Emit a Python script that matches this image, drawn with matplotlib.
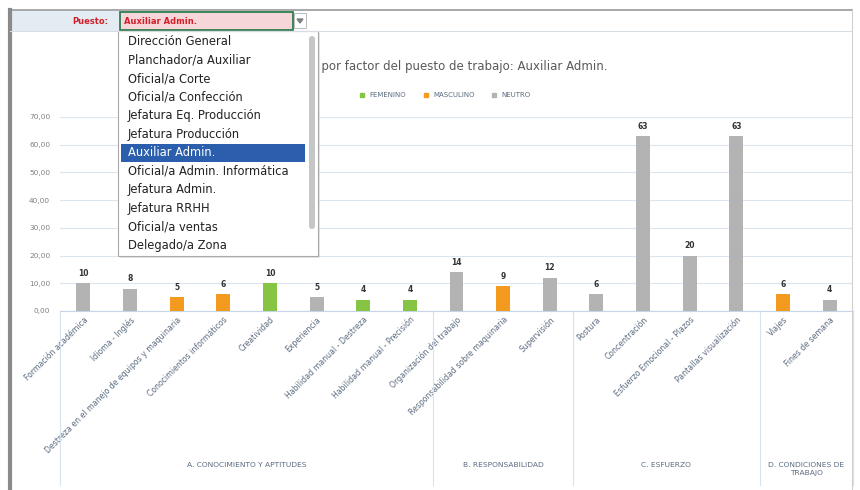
import numpy as np
import matplotlib
matplotlib.use('Agg')
import matplotlib.pyplot as plt
from matplotlib.patches import Rectangle, FancyBboxPatch, Polygon
from matplotlib.lines import Line2D
from matplotlib.ticker import FuncFormatter

# factores valorados para el puesto seleccionado
factores = ['Formación académica', 'Idioma - Inglés',
            'Destreza en el manejo de equipos y maquinaria',
            'Conocimientos informáticos', 'Creatividad', 'Experiencia',
            'Habilidad manual - Destreza', 'Habilidad manual - Precisión',
            'Organización del trabajo', 'Responsabilidad sobre maquinaria',
            'Supervisión', 'Postura', 'Concentración',
            'Esfuerzo Emocional - Plazos', 'Pantallas visualización',
            'Viajes', 'Fines de semana']
puntos = [10, 8, 5, 6, 10, 5, 4, 4, 14, 9, 12, 6, 63, 20, 63, 6, 4]
genero = ['N', 'N', 'M', 'M', 'F', 'N', 'F', 'F', 'N', 'M', 'N',
          'N', 'N', 'N', 'N', 'M', 'N']

grupos = ['A. CONOCIMIENTO Y APTITUDES', 'B. RESPONSABILIDAD',
          'C. ESFUERZO', 'D. CONDICIONES DE\nTRABAJO']
grupo_n = [8, 3, 4, 2]

puestos = ['Dirección General', 'Planchador/a Auxiliar', 'Oficial/a Corte',
           'Oficial/a Confección', 'Jefatura Eq. Producción',
           'Jefatura Producción', 'Auxiliar Admin.',
           'Oficial/a Admin. Informática', 'Jefatura Admin.',
           'Jefatura RRHH', 'Oficial/a ventas', 'Delegado/a Zona']
puesto_sel = 'Auxiliar Admin.'

colores = {'F': '#86c443', 'M': '#f39a1f', 'N': '#b3b3b3'}
nombres = {'F': 'FEMENINO', 'M': 'MASCULINO', 'N': 'NEUTRO'}

W, H = 860, 490
fig = plt.figure(figsize=(W / 100, H / 100), dpi=100)
fig.patch.set_facecolor('white')

def fx(px):
    return px / W

def fy(py):
    return 1 - py / H

# area del grafico
ax = fig.add_axes([fx(60), fy(311), fx(853) - fx(60), fy(117) - fy(311)])
x = np.arange(len(factores))
ax.bar(x, puntos, width=0.3, color=[colores[g] for g in genero], zorder=3)
for xi, v in zip(x, puntos):
    ax.annotate(str(v), (xi, v), xytext=(0, 4), textcoords='offset points',
                ha='center', va='bottom', fontsize=5.5, fontweight='bold',
                color='#333333')

ax.set_xlim(-0.5, len(factores) - 0.5)
ax.set_ylim(0, 70)
ax.set_yticks(np.arange(0, 71, 10))
ax.yaxis.set_major_formatter(FuncFormatter(lambda v, p: f'{v:.2f}'.replace('.', ',')))
ax.grid(axis='y', color='#dbe5f1', lw=0.8, zorder=0)
for s in ['top', 'right', 'left']:
    ax.spines[s].set_visible(False)
ax.spines['bottom'].set_color('#c5d5e8')
ax.tick_params(axis='y', length=0, labelsize=5.3, labelcolor='#808080', pad=7)
ax.tick_params(axis='x', length=0, pad=3)
ax.set_xticks(x)
ax.set_xticklabels(factores, rotation=45, ha='right', rotation_mode='anchor',
                   fontsize=5.6, color='#5b6b80')

# separadores y nombres de grupo
trans = ax.get_xaxis_transform()
bordes = np.concatenate([[0], np.cumsum(grupo_n)]) - 0.5
for b in bordes:
    ax.plot([b, b], [0, -(485 - 311) / (311 - 117)], transform=trans,
            color='#d6e2ef', lw=0.8, clip_on=False)
for i, g in enumerate(grupos):
    xc = (bordes[i] + bordes[i + 1]) / 2
    ax.text(xc, -(462 - 311) / (311 - 117), g, transform=trans, ha='center',
            va='top', fontsize=5.4, color='#5b6b80', linespacing=1.5)

fig.text(0.5, fy(66), 'Puntuación por factor del puesto de trabajo: ' + puesto_sel,
         ha='center', va='center', fontsize=8.5, color='#595959')

handles = [Line2D([], [], marker='s', ls='', ms=3, color=colores[k]) for k in 'FMN']
fig.legend(handles, [nombres[k] for k in 'FMN'], loc='center',
           bbox_to_anchor=(fx(443), fy(95)), ncol=3, frameon=False, fontsize=5,
           handletextpad=0.1, columnspacing=1.8, labelcolor='#5b6b80')

# hoja de calculo: celda de seleccion y lista desplegable
ov = fig.add_axes([0, 0, 1, 1], zorder=10)
ov.set_xlim(0, W)
ov.set_ylim(H, 0)
ov.axis('off')
ov.patch.set_alpha(0)

ov.plot([10, 852], [10, 10], color='#9a9a9a', lw=1.2)
ov.plot([10, 10], [10, H], color='#8a8a8a', lw=3)
ov.plot([852, 852], [10, H], color='#d0d0d0', lw=0.8)
ov.plot([10, 852], [31, 31], color='#d8dde3', lw=0.8)
ov.add_patch(Rectangle((11, 11), 108, 20, facecolor='#e3ebf3', edgecolor='none'))
ov.text(108, 21, 'Puesto:', ha='right', va='center', fontsize=6,
        fontweight='bold', color='#d0202a')
ov.add_patch(Rectangle((120, 12), 173, 18, facecolor='#f7d6d9',
                       edgecolor='#2e7d4f', lw=1.3))
ov.text(124, 21, puesto_sel, ha='left', va='center', fontsize=6,
        fontweight='bold', color='#d0202a')
ov.add_patch(Rectangle((294, 13), 12, 15, facecolor='white',
                       edgecolor='#b0b0b0', lw=0.6))
ov.add_patch(Polygon([[297, 19], [303, 19], [300, 23]], color='#808080'))

# lista
ov.add_patch(Rectangle((120, 33), 200, 225, facecolor='#d0d0d0',
                       edgecolor='none', alpha=0.5))
ov.add_patch(Rectangle((118, 31), 200, 225, facecolor='white',
                       edgecolor='#a8a8a8', lw=0.8))
y0, dy = 41.5, 18.5
for i, p in enumerate(puestos):
    yy = y0 + i * dy
    col = '#222222'
    if p == puesto_sel:
        ov.add_patch(Rectangle((121, yy - 9), 184, 18, facecolor='#2b5fad',
                               edgecolor='none'))
        col = 'white'
    ov.text(128, yy, p, ha='left', va='center', fontsize=8.3, color=col)
ov.add_patch(FancyBboxPatch((309, 36), 6, 193, boxstyle='round,pad=0,rounding_size=3',
                            facecolor='#c6c6c6', edgecolor='none'))

fig.savefig('out.png', dpi=100)
